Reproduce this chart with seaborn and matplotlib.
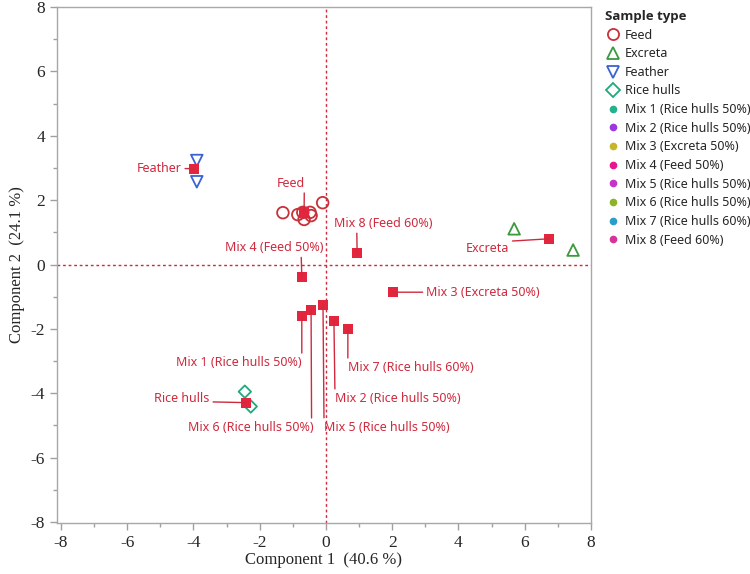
import numpy as np
import pandas as pd
import seaborn as sns
import matplotlib.pyplot as plt
from matplotlib.lines import Line2D
from matplotlib.ticker import MultipleLocator

# Individual samples (scores on the first two components)
feed_x = [-1.30, -0.85, -0.66, -0.70, -0.48, -0.45, -0.10]
feed_y = [1.61, 1.55, 1.40, 1.62, 1.62, 1.52, 1.92]
excreta_x = [5.68, 7.46]
excreta_y = [1.11, 0.45]
feather_x = [-3.90, -3.90]
feather_y = [3.23, 2.57]
rice_x = [-2.45, -2.27]
rice_y = [-3.95, -4.41]

# Group means and the mixes
mean_names = ['Feather', 'Feed', 'Excreta', 'Rice hulls']
mean_x = [-3.99, -0.66, 6.74, -2.42]
mean_y = [2.98, 1.64, 0.80, -4.29]

mix_names = ['Mix 1 (Rice hulls 50%)', 'Mix 2 (Rice hulls 50%)', 'Mix 3 (Excreta 50%)',
             'Mix 4 (Feed 50%)', 'Mix 5 (Rice hulls 50%)', 'Mix 6 (Rice hulls 50%)',
             'Mix 7 (Rice hulls 60%)', 'Mix 8 (Feed 60%)']
mix_x = [-0.73, 0.24, 2.02, -0.73, -0.09, -0.45, 0.66, 0.94]
mix_y = [-1.61, -1.76, -0.86, -0.39, -1.26, -1.42, -2.01, 0.36]

mix_colors = ['#26b08e', '#9b38e0', '#c8b42a', '#ec148c',
              '#c832c8', '#8cb42a', '#2a9ec8', '#d6349a']

red = '#e3253d'
txt_red = '#cf2a3e'
groups = [('Feed', feed_x, feed_y, 'o', '#c8303a'),
          ('Excreta', excreta_x, excreta_y, '^', '#3a9a3e'),
          ('Feather', feather_x, feather_y, 'v', '#3a62d2'),
          ('Rice hulls', rice_x, rice_y, 'D', '#1fa97c')]

sns.set_style('white')
plt.rcParams['font.family'] = ['Noto Sans', 'DejaVu Sans']
plt.rcParams['axes.unicode_minus'] = False

fig = plt.figure(figsize=(7.5, 5.74), dpi=100)
ax = fig.add_axes([57 / 750, 1 - 523 / 574, 534 / 750, 516 / 574])

ax.axhline(0, color='#d0283c', lw=1, ls=(0, (2, 2)), zorder=1)
ax.axvline(0, color='#d0283c', lw=1, ls=(0, (2, 2)), zorder=1)

for name, gx, gy, mk, col in groups:
    ms = 40 if mk == 'D' else 70
    sns.scatterplot(x=gx, y=gy, marker=mk, s=ms, color=col, facecolor='none',
                    edgecolor=col, linewidth=1.3, ax=ax, zorder=3)

mix_df = pd.DataFrame({'x': mix_x, 'y': mix_y, 'name': mix_names})
sns.scatterplot(data=mix_df, x='x', y='y', hue='name', palette=mix_colors,
                s=25, linewidth=0, ax=ax, legend=False, zorder=3)

all_names = mean_names + mix_names
all_x = mean_x + mix_x
all_y = mean_y + mix_y
sns.scatterplot(x=all_x, y=all_y, marker='s', s=45, color=red, linewidth=0,
                ax=ax, zorder=4)

# label offsets in pixels: dx, dy, ha, va, relpos
label_pos = {
    'Feather': (-12, 0, 'right', 'center', (1, 0.5)),
    'Feed': (1, 22, 'right', 'bottom', (0.97, 0)),
    'Excreta': (-40, -10, 'right', 'center', (1, 1.08)),
    'Rice hulls': (-36, 4, 'right', 'center', (1, 0.25)),
    'Mix 1 (Rice hulls 50%)': (0, -40, 'right', 'top', (1, 1)),
    'Mix 2 (Rice hulls 50%)': (1, -71, 'left', 'top', (0, 1)),
    'Mix 3 (Excreta 50%)': (33, 0, 'left', 'center', (0, 0.5)),
    'Mix 4 (Feed 50%)': (22, 23, 'right', 'bottom', (0.77, 0)),
    'Mix 5 (Rice hulls 50%)': (1, -116, 'left', 'top', (0, 1)),
    'Mix 6 (Rice hulls 50%)': (3, -111, 'right', 'top', (0.98, 1)),
    'Mix 7 (Rice hulls 60%)': (0, -32, 'left', 'top', (0, 1)),
    'Mix 8 (Feed 60%)': (-23, 23, 'left', 'bottom', (0.23, 0)),
}
for name, x, y in zip(all_names, all_x, all_y):
    dx, dy, ha, va, rp = label_pos[name]
    ax.annotate(name, (x, y), xytext=(dx * 0.72, dy * 0.72), textcoords='offset points',
                ha=ha, va=va, fontsize=9, color=txt_red, zorder=5,
                arrowprops=dict(arrowstyle='-', color=txt_red, lw=1,
                                shrinkA=0, shrinkB=0, relpos=rp))

ax.set_xlim(-8.12, 8)
ax.set_ylim(-8.03, 8)
ax.xaxis.set_major_locator(MultipleLocator(2))
ax.xaxis.set_minor_locator(MultipleLocator(1))
ax.yaxis.set_major_locator(MultipleLocator(2))
ax.yaxis.set_minor_locator(MultipleLocator(1))
ax.tick_params(which='both', direction='out', color='#a0a0a0', width=1,
               bottom=True, left=True)
ax.tick_params(which='major', length=5, labelsize=12.5)
ax.tick_params(which='minor', length=3)
for lab in ax.get_xticklabels() + ax.get_yticklabels():
    lab.set_family('Liberation Serif')
for sp in ax.spines.values():
    sp.set_color('#a8a8a8')
    sp.set_linewidth(1)

ax.set_xlabel('Component 1  (40.6 %)', fontsize=12, family='Liberation Serif', labelpad=1)
ax.set_ylabel('Component 2  (24.1 %)', fontsize=12, family='Liberation Serif', labelpad=4)

handles = []
for name, gx, gy, mk, col in groups:
    handles.append(Line2D([], [], marker=mk, ls='none', mfc='none', mec=col,
                          mew=1.3, ms=8 if mk != 'D' else 7, label=name))
for name, col in zip(mix_names, mix_colors):
    handles.append(Line2D([], [], marker='o', ls='none', mfc=col, mec=col,
                          ms=4.5, label=name))
leg = fig.legend(handles=handles, loc='upper left', bbox_to_anchor=(600 / 750, 1 - 5 / 574),
                 frameon=False, fontsize=9, title='Sample type', handletextpad=0.4,
                 labelspacing=0.45, borderaxespad=0, handlelength=1.2)
leg.get_title().set_family(['Open Sans', 'DejaVu Sans'])
leg.get_title().set_weight('bold')
leg.get_title().set_size(9.5)
leg._legend_box.align = 'left'

fig.savefig('out.png', dpi=100)
